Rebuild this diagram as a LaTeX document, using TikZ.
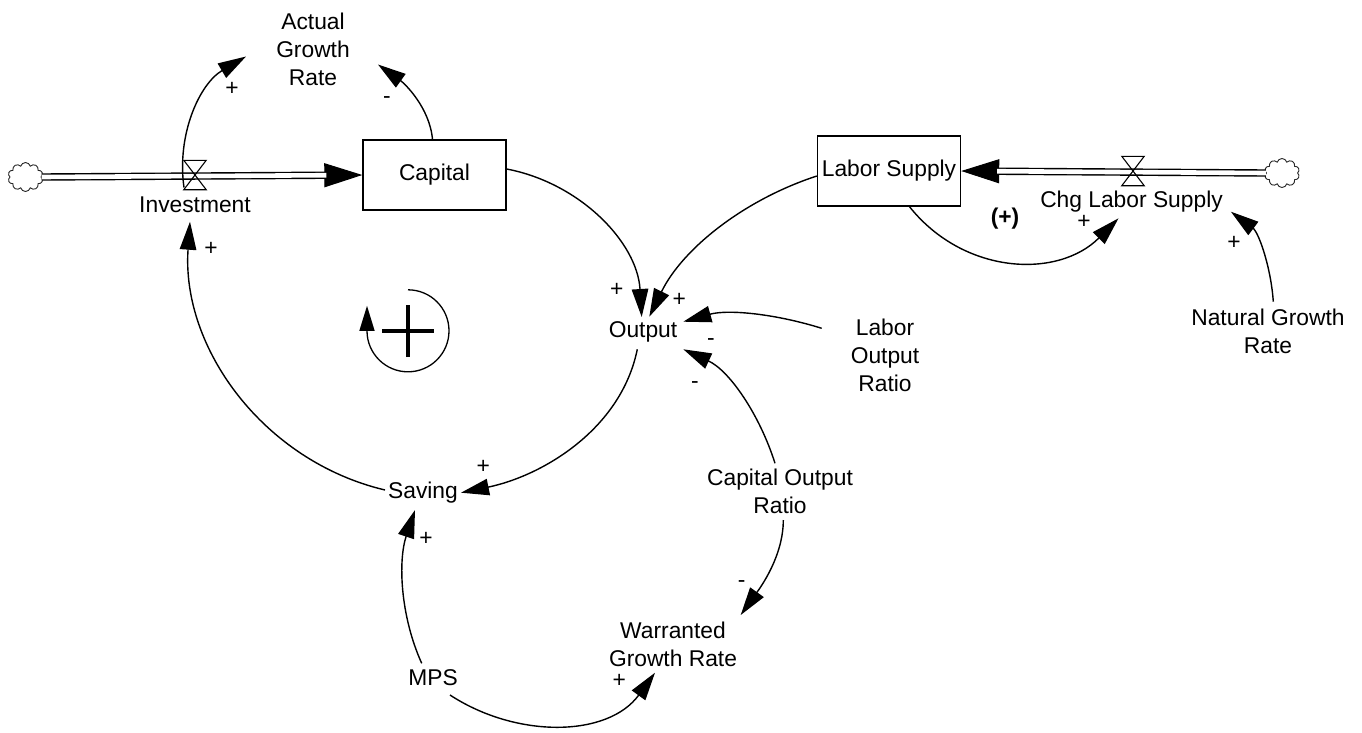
\documentclass[tikz,border=0pt]{standalone}
\usepackage{fontspec}
\setmainfont{Liberation Sans}
\usetikzlibrary{arrows.meta,shapes.symbols}
\begin{document}
\begin{tikzpicture}[x=1pt,y=-1pt,
  every node/.style={font=\fontsize{22.8}{28}\selectfont},
  var/.style={align=center, inner sep=1pt},
  stock/.style={draw, line width=1.4pt, minimum width=143pt, minimum height=70pt, inner sep=0pt},
  lnk/.style={line width=1.4pt, -{Triangle[length=28pt,width=16.5pt]}},
  pol/.style={inner sep=0pt},
  valve/.style={minimum width=22pt, minimum height=29pt, inner sep=0pt},
  vshape/.style={line width=1.1pt},
  cloudy/.style={cloud, cloud puffs=10, aspect=1.25, draw=black!85, line width=0.9pt, minimum width=35pt, minimum height=29pt, inner sep=0pt},
  pipe/.style={line width=1.4pt, double=white, double distance=4.6pt},
  pipearrow/.style={line width=1pt, -{Triangle[length=38pt,width=24pt]}},
]
\useasboundingbox[fill=white] (0,0) rectangle (1362,732);

% stocks
\node[stock] (cap) at (434.5,175) {Capital};
\node[stock] (ls) at (889,171) {Labor Supply};

% clouds and valves
\node[cloudy] (cL) at (25.5,177) {};
\node[cloudy] (cR) at (1282,173) {};
\node[valve] (vL) at (195,175) {};
\node[valve] (vR) at (1133,171) {};

% variables
\node[var] (agr) at (313,49.5) {Actual\\Growth\\Rate};
\node[var] (inv) at (195,205) {Investment};
\node[var] (chg) at (1131.5,201.7) {Chg Labor Supply};
\node[var] (out) at (643,332) {Output};
\node[var] (lor) at (885,355) {Labor\\Output\\Ratio};
\node[var] (ngr) at (1268,331) {Natural Growth\\Rate};
\node[var] (sav) at (423,493) {Saving};
\node[var] (cor) at (780,491) {Capital Output\\Ratio};
\node[var] (wgr) at (673,644) {Warranted\\Growth Rate};
\node[var] (mps) at (433,678) {MPS};

% pipes
\draw[pipearrow] (cL.east) -- (cap.west);
\draw[pipe, shorten >=36pt] (cL.east) -- (cap.west);
\draw[pipearrow] (cR.west) -- (ls.east);
\draw[pipe, shorten >=36pt] (cR.west) -- (ls.east);
\draw[vshape] (vL.north west) -- (vL.north east) -- (vL.south west) -- (vL.south east) -- cycle;
\draw[vshape] (vR.north west) -- (vR.north east) -- (vR.south west) -- (vR.south east) -- cycle;

% links
\draw[lnk] ([shift={(-11,12.5)}]vL.center) .. controls (176.5,134.7) and (199.4,83.9) .. ([shift={(-67,7)}]agr.center);
\draw[lnk] ([shift={(-2,0)}]cap.north) .. controls (429.5,107) and (404.2,83.2) .. ([shift={(65,15)}]agr.center);
\draw[lnk] ([shift={(0,-6)}]cap.east) .. controls (580,183) and (637.2,242.2) .. ([shift={(-1.3,-15)}]out.center);
\draw[lnk] ([shift={(0,5)}]ls.west) .. controls (744.5,199.6) and (682.7,248.3) .. ([shift={(6.3,-15.3)}]out.center);
\draw[lnk] ([shift={(-63.3,-26.7)}]lor.center) .. controls (776.4,314.1) and (728.6,309) .. ([shift={(40.3,-10.3)}]out.center);
\draw[lnk] ([shift={(-5,-27.7)}]cor.center) .. controls (759.7,414.9) and (729.6,370.7) .. ([shift={(40.3,17.3)}]out.center);
\draw[lnk] ([shift={(-5.7,17.3)}]out.center) .. controls (620.8,430.2) and (541.1,476.2) .. ([shift={(38,-0.3)}]sav.center);
\draw[lnk] ([shift={(-38,-3)}]sav.center) .. controls (263.1,461.1) and (181.2,347.4) .. ([shift={(-5,16.7)}]inv.center);
\draw[lnk] ([shift={(-11.3,-14.7)}]mps.center) .. controls (400,615.2) and (398.1,560.3) .. ([shift={(-8,17)}]sav.center);
\draw[lnk] ([shift={(17,17)}]mps.center) .. controls (517,738.8) and (608,737.3) .. ([shift={(-18,28.7)}]wgr.center);
\draw[lnk] ([shift={(3.3,29)}]cor.center) .. controls (783.3,555.5) and (761.3,586.2) .. ([shift={(67.7,-29)}]wgr.center);
\draw[lnk] ([shift={(20.5,0)}]ls.south) .. controls (964,275) and (1058,279) .. ([shift={(-13,16.6)}]chg.center);
\draw[lnk] ([shift={(5.3,-29.3)}]ngr.center) .. controls (1270.9,267) and (1258.7,232.5) .. ([shift={(99.4,10)}]chg.center);

% polarities
\node[pol] (p1) at (232,89) {+};
\node[pol] (p2) at (387,100.5) {-};
\node[pol] (p3) at (616.7,290) {+};
\node[pol] (p4) at (679.3,300) {+};
\node[pol] (p5) at (711,342.5) {-};
\node[pol] (p6) at (695,385.5) {-};
\node[pol] (p7) at (483.3,467.3) {+};
\node[pol] (p8) at (211,249) {+};
\node[pol] (p9) at (426,539.3) {+};
\node[pol] (p10) at (619.3,681) {+};
\node[pol] (p11) at (741.7,584.2) {-};
\node[pol] (p12) at (1084,222) {+};
\node[pol] (p13) at (1233.9,243.3) {+};
\node[pol, font={\fontsize{22.8}{28}\selectfont\bfseries}] (p14) at (1005,218.3) {(+)};

% loop symbol
\node[circle, minimum size=82pt, inner sep=0pt] (loop) at (408,331) {};
\draw[line width=1.3pt, -{Triangle[length=25pt,width=15pt]}] (loop.north) arc[start angle=-90, end angle=180, radius=41] -- ++(0,-25);
\draw[line width=4pt] ([xshift=-26pt]loop.center) -- ([xshift=26pt]loop.center);
\draw[line width=4pt] ([yshift=-26pt]loop.center) -- ([yshift=26pt]loop.center);
\end{tikzpicture}
\end{document}
